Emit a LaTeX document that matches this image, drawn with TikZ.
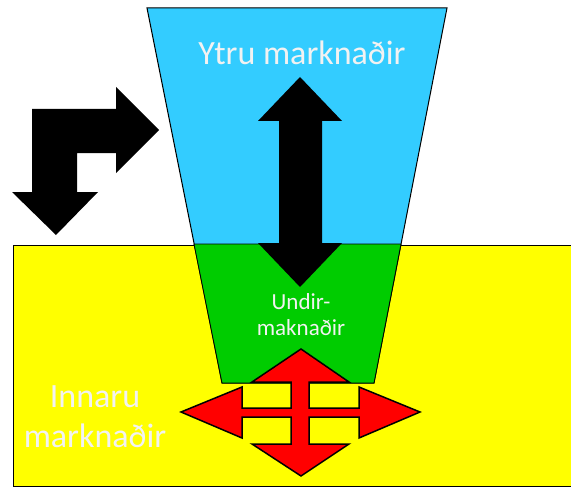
\documentclass[tikz,border=0pt]{standalone}
\usepackage{fontspec}
\setmainfont{Carlito}
\definecolor{skyblue}{HTML}{33CCFF}
\definecolor{leafgreen}{HTML}{00CC00}
\definecolor{paletext}{HTML}{F2F2F2}
\definecolor{sunyellow}{HTML}{FFFF00}
\begin{document}
\begin{tikzpicture}[x=1pt,y=-1pt]
	\useasboundingbox (0,0) rectangle (571,487);
	\draw[fill=sunyellow,line width=1pt] (13,245) rectangle (590,486);
	\draw[fill=skyblue,line width=1pt] (147,8) -- (447,8) -- (374,383) -- (222,383) -- cycle;
	\draw[fill=leafgreen,line width=0.8pt] (194,244) -- (401,244) -- (374,383) -- (222,383) -- cycle;
	\fill (300,77) -- (342,121) -- (322,121) -- (322,243) -- (342,243) -- (300,287) -- (258,243) -- (279,243) -- (279,121) -- (258,121) -- cycle;
	\fill (159,130) -- (116,87) -- (116,109) -- (32,109) -- (32,192) -- (12,192) -- (56,235) -- (98,192) -- (77,192) -- (77,153) -- (116,153) -- (116,173) -- cycle;
	\draw[fill=red,line width=1.5pt] (301,349) -- (349,382) -- (309,382) -- (309,408) -- (359,408) -- (359,387) -- (420,412) -- (359,438) -- (359,417) -- (309,417) -- (309,444) -- (349,444) -- (301,476) -- (252,444) -- (291,444) -- (291,417) -- (242,417) -- (242,438) -- (181,412) -- (242,387) -- (242,408) -- (291,408) -- (291,382) -- (252,382) -- cycle;
	\node[anchor=base,text=paletext,font=\fontsize{34}{41}\selectfont] (outer) at (302,65) {Ytru marknaðir};
	\node[anchor=base,text=paletext,align=center,font=\fontsize{23}{26}\selectfont] (sub) at (301,335) {Undir-\\maknaðir};
	\node[anchor=base,text=paletext,align=center,font=\fontsize{34}{40}\selectfont] (inner) at (95,447) {Innaru\\marknaðir};
\end{tikzpicture}
\end{document}
